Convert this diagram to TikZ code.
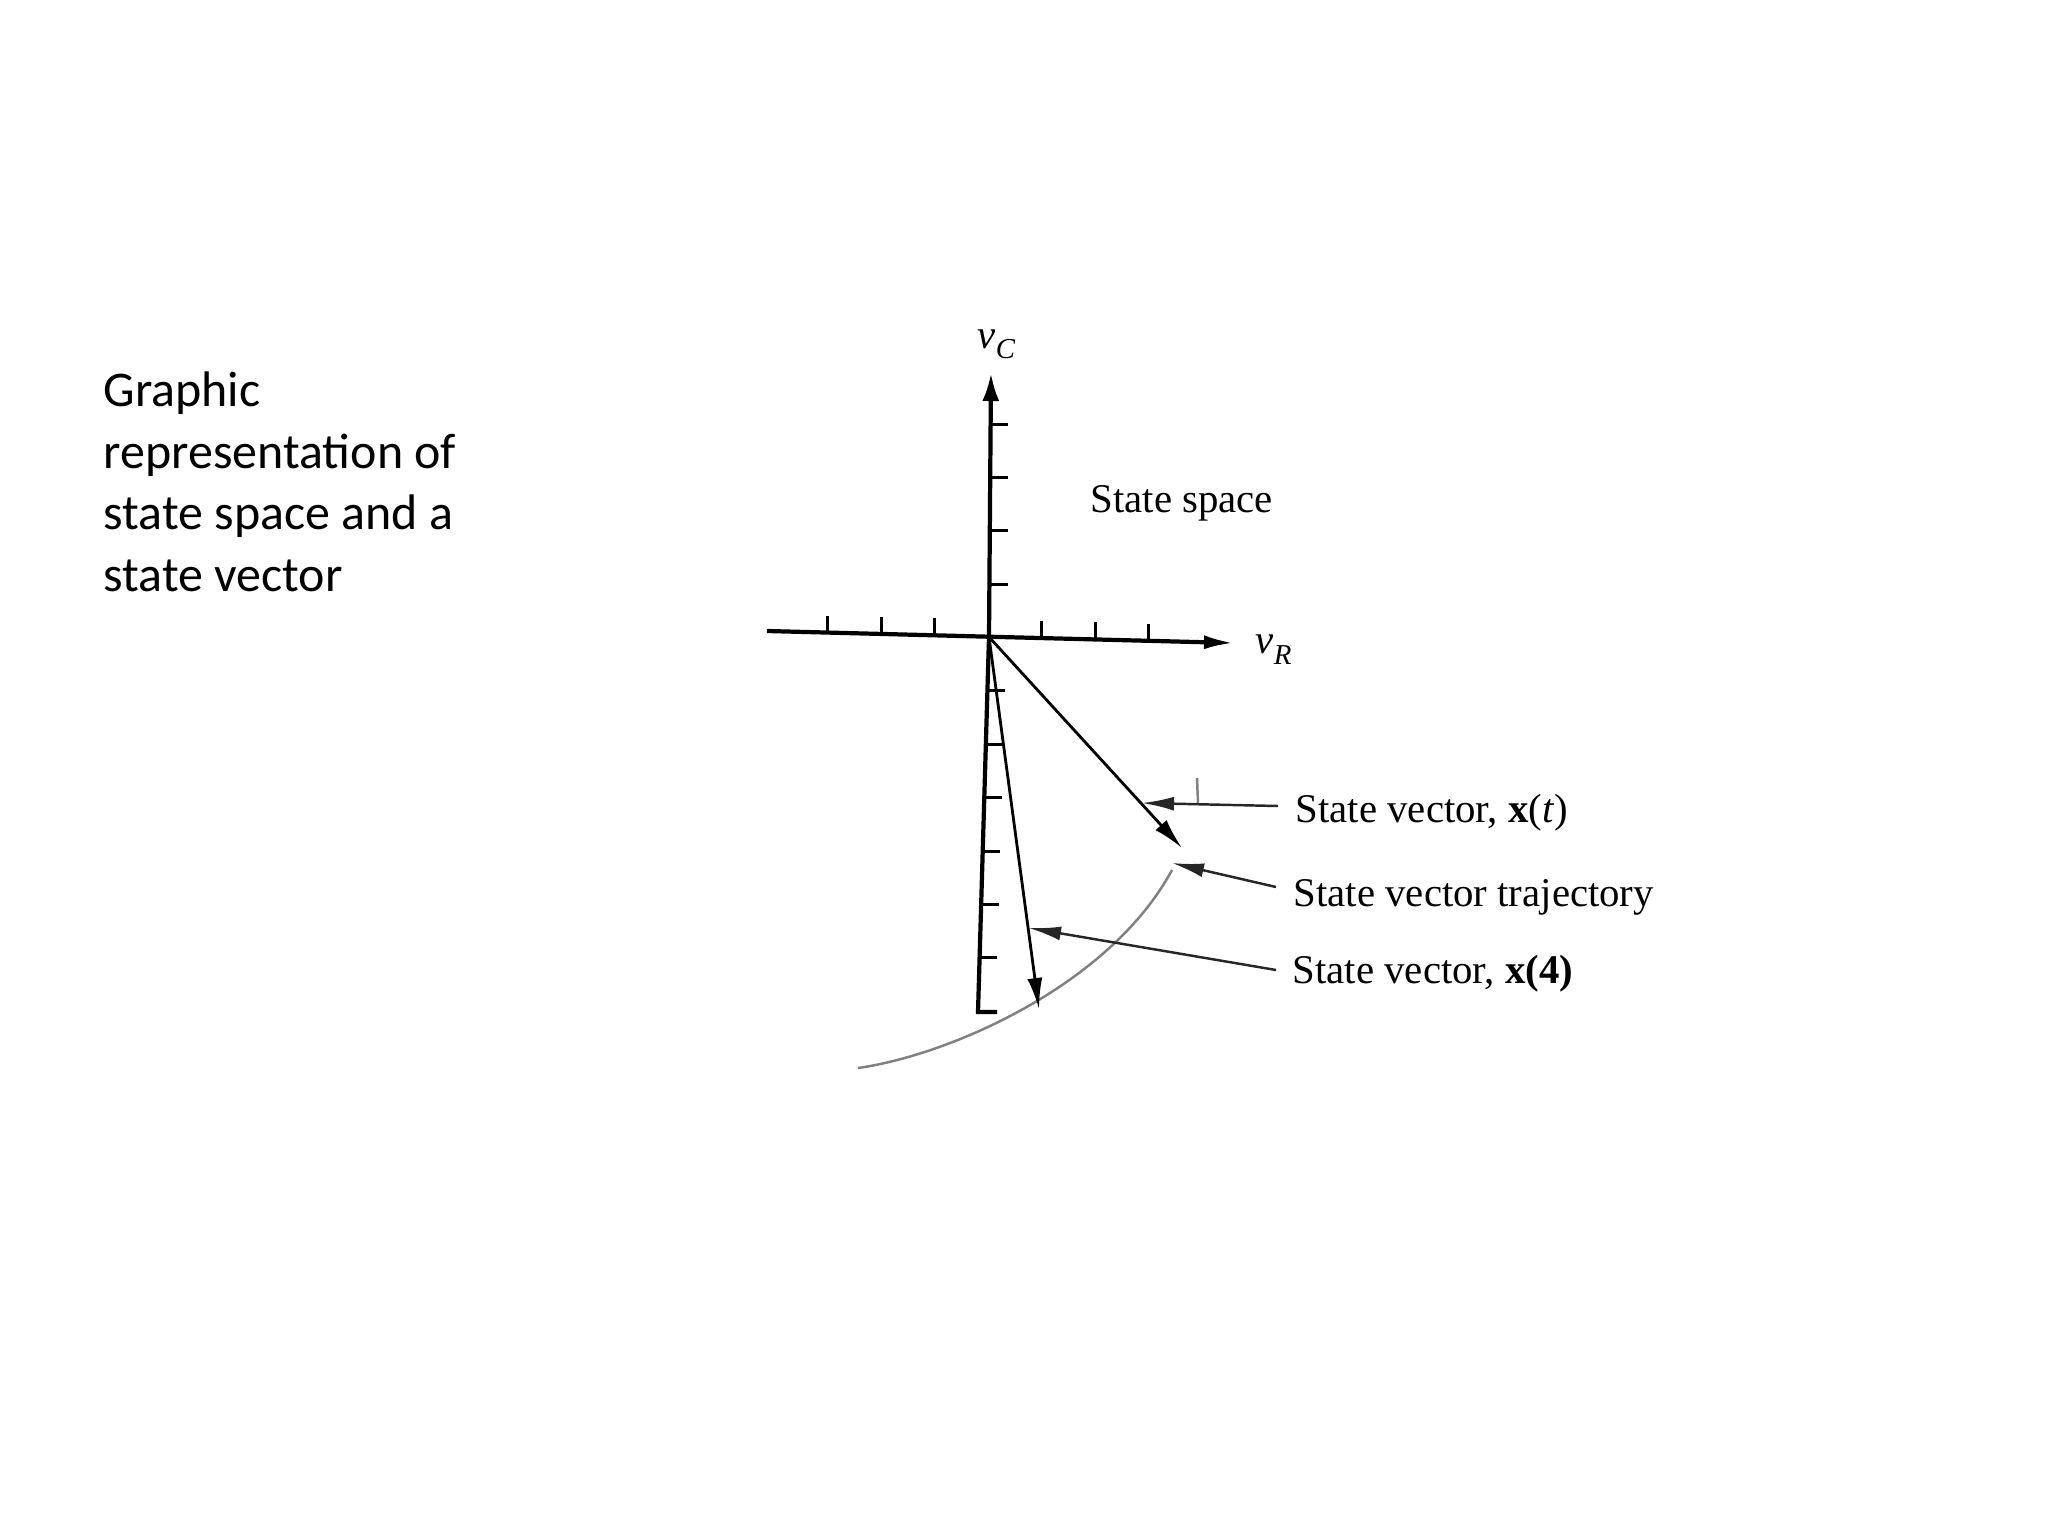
\documentclass[tikz,border=0pt]{standalone}
\usepackage{fontspec}
\setmainfont{Liberation Serif}
\newfontfamily\calfont{Carlito}
\usetikzlibrary{arrows.meta}
\begin{document}
\begin{tikzpicture}[x=0.01cm,y=-0.01cm,
  axisline/.style={line width=1.2pt, black},
  tickline/.style={line width=0.85pt, black},
  vecline/.style={line width=0.8pt, black, -{Latex[length=0.31cm,width=0.15cm]}},
  leadline/.style={line width=0.7pt, black!85, -{Latex[length=0.32cm,width=0.14cm]}},
  trajline/.style={line width=0.7pt, black!50},
  lbl/.style={font=\fontsize{11.6}{13}\selectfont, inner sep=0pt},
  titletext/.style={font=\calfont\fontsize{14.2}{17.45}\selectfont, align=left, inner sep=0pt}]
\useasboundingbox (0,0) rectangle (2048,1536);
% title text (base anchor = baseline of last line)
\node[titletext, anchor=base west] (title) at (103,591) {Graphic\\representation of\\state space and a\\state vector};
% key points
\coordinate (O) at (989,637);
\coordinate (ytip) at (991,373);
\coordinate (ybot) at (978,1012);
\coordinate (foot) at (997,1012);
\coordinate (xleft) at (767,631);
\coordinate (xtip) at (1234,643);
\coordinate (xt) at (1182,848);
\coordinate (x4) at (1039,1009);
\coordinate (trajA) at (858,1068);
\coordinate (trajB) at (1172,870);
% axes
\draw[axisline, -{Latex[length=0.28cm,width=0.17cm]}] (O) -- (ytip);
\draw[axisline] (O) -- (ybot) -- (foot);
\draw[axisline, -{Latex[length=0.3cm,width=0.14cm]}] (xleft) -- (xtip);
\foreach \y in {424,477,530,584} \draw[tickline] (990,\y) -- ++(18,0);
\foreach \y in {690,744,797,851,904,957} \draw[tickline] ({988-10*(\y-637)/375},\y) -- ++(18,0);
\foreach \x in {827,881,934,1041,1095,1148} \draw[tickline] (\x,{631+12*(\x-767)/466}) -- ++(0,-17);
% axis labels
\node[lbl, anchor=base west] (vc) at (977,348) {\textit{v}\raisebox{-0.1cm}{\fontsize{8.2}{9}\selectfont\textit{C}}};
\node[lbl, anchor=base west] (vr) at (1255,653) {\textit{v}\raisebox{-0.11cm}{\fontsize{8.2}{9}\selectfont\textit{R}}};
\node[lbl, anchor=base west] (space) at (1090,512) {State space};
% trajectory
\draw[trajline] (trajA) .. controls (950,1055) and (1110,985) .. (trajB);
\draw[trajline] (1197,778) -- (1198,803);
% state vectors
\draw[vecline] (O) -- (xt);
\draw[vecline] (O) -- (x4);
% labels and leaders
\node[lbl, anchor=base west] (lab1) at (1295,822) {State vector, \textbf{x}(\textit{t})};
\node[lbl, anchor=base west] (lab2) at (1293,906) {State vector trajectory};
\node[lbl, anchor=base west] (lab3) at (1292,983) {State vector, \textbf{x(4)}};
\coordinate (l1s) at (1278,806);
\coordinate (l1e) at (1142,803);
\coordinate (l2s) at (1276,887);
\coordinate (l2e) at (1172,863);
\coordinate (l3s) at (1276,970);
\coordinate (l3e) at (1029,928);
\draw[leadline] (l1s) -- (l1e);
\draw[leadline] (l2s) -- (l2e);
\draw[leadline] (l3s) -- (l3e);
\end{tikzpicture}
\end{document}
